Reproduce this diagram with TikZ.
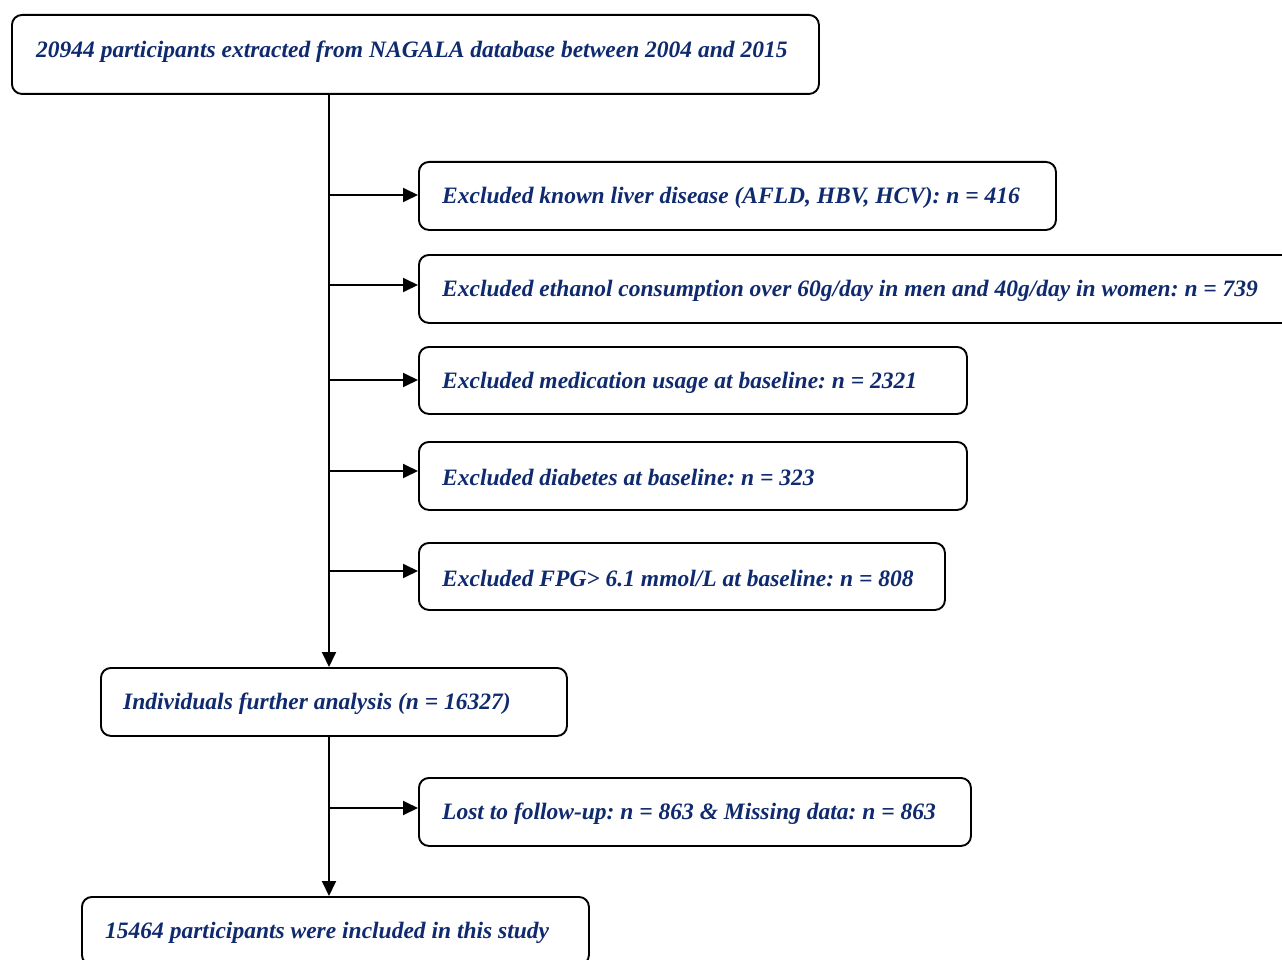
\documentclass[tikz,border=0pt]{standalone}
\usepackage{fontspec}
\setmainfont{Liberation Serif}
\usetikzlibrary{arrows.meta,positioning}
\definecolor{navy}{RGB}{15,42,110}
\tikzset{
  box/.style={draw=black, line width=1.9pt, rounded corners=10pt, anchor=north west,
    inner xsep=0pt, inner ysep=0pt},
  lbl/.style={anchor=west, font=\fontsize{23.5}{28}\selectfont\bfseries\itshape, text=navy, inner sep=0pt},
  arr/.style={line width=1.9pt, -{Triangle[length=15pt,width=14pt]}}
}
\newcommand{\bx}[8]{% name, x1, y1, x2, y2, textinset, text, yshift
  \node[box, minimum width=#4-#2, minimum height=#5-#3] (#1) at (#2,#3) {};
  \node[lbl] (#1t) at (#2+#6,{(#3+#5)/2+#8}) {\frenchspacing #7};
}
\begin{document}
\begin{tikzpicture}[x=1pt,y=-1pt]
\clip (0,0) rectangle (1282,960);
\fill[white] (0,0) rectangle (1282,960);
\bx{top}{11}{14}{818}{93}{25}{20944 participants extracted from NAGALA database between 2004 and 2015}{-2}
\bx{e1}{418}{161}{1055}{229}{24}{Excluded known liver disease (AFLD, HBV, HCV): n = 416}{3}
\bx{e2}{418}{254}{1320}{322}{24}{Excluded ethanol consumption over 60g/day in men and 40g/day in women: n = 739}{3}
\bx{e3}{418}{346}{966}{413}{24}{Excluded medication usage at baseline: n = 2321}{3}
\bx{e4}{418}{441}{966}{509}{24}{Excluded diabetes at baseline: n = 323}{3}
\bx{e5}{418}{542}{944}{609}{24}{Excluded FPG> 6.1 mmol/L at baseline: n = 808}{3}
\bx{mid}{100}{667}{566}{735}{23}{Individuals further analysis (n = 16327)}{3}
\bx{e6}{418}{777}{970}{845}{24}{Lost to follow-up: n = 863 \& Missing data: n = 863}{3}
\bx{fin}{81}{896}{588}{964}{24}{15464 participants were included in this study}{3}
\coordinate (t1) at (329,93);
\coordinate (t2) at (329,667);
\coordinate (t3) at (329,735);
\coordinate (t4) at (329,896);
\draw[arr] (t1) -- (t2);
\draw[arr] (t3) -- (t4);
\foreach \n/\y in {e1/195,e2/285,e3/380,e4/471,e5/571,e6/808}{
  \coordinate (b\n) at (329,\y);
  \draw[arr] (b\n) -- (\n.west |- b\n);
}
\end{tikzpicture}
\end{document}
